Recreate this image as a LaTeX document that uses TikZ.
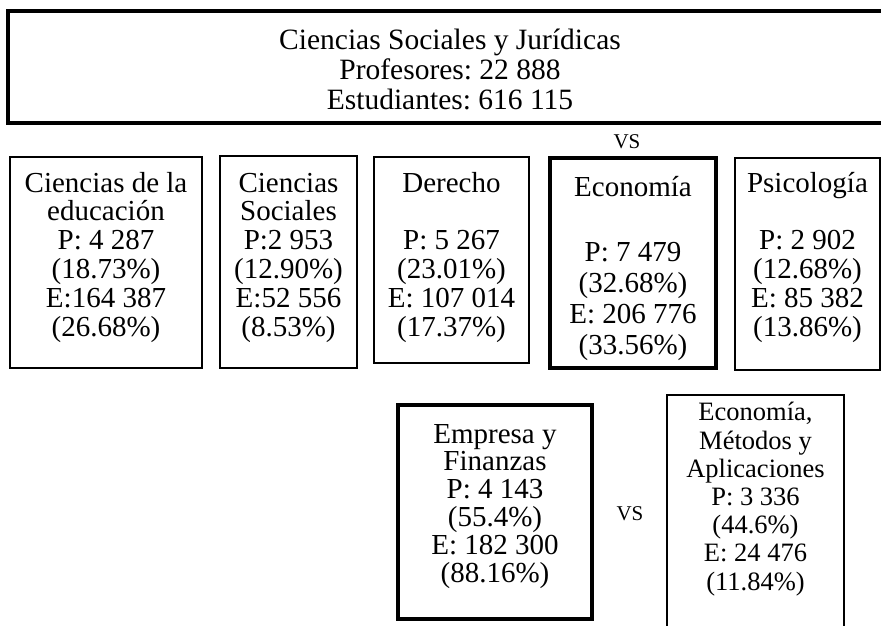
\documentclass[tikz,border=0pt]{standalone}
\usepackage{fontspec}
\setmainfont{Liberation Serif}
\frenchspacing
\begin{document}
\begin{tikzpicture}[x=1pt,y=-1pt,
  thinbox/.style={draw, line width=1.2pt, inner sep=0pt, outer sep=0pt},
  thickbox/.style={draw, line width=4.3pt, inner sep=0pt, outer sep=0pt},
  txt/.style={align=center, inner sep=0pt, anchor=base, font=\frenchspacing\fontsize{29}{28.8}\selectfont},
  vslabel/.style={inner sep=0pt, anchor=base, font=\fontsize{21}{21}\selectfont}]
\useasboundingbox (0,0) rectangle (881,625);
\clip (0,0) rectangle (881,625);
% boxes
\node[thickbox, minimum width=892, minimum height=112] (top) at (454,67) {};
\node[thinbox, minimum width=192, minimum height=211] (b1) at (106,262.5) {};
\node[thinbox, minimum width=137, minimum height=212] (b2) at (288.5,262) {};
\node[thinbox, minimum width=155, minimum height=206] (b3) at (451.5,260) {};
\node[thickbox, minimum width=166, minimum height=210] (b4) at (633,263) {};
\node[thinbox, minimum width=145, minimum height=212] (b5) at (807.5,264) {};
\node[thickbox, minimum width=194, minimum height=214] (b6) at (495,512) {};
\node[thinbox, minimum width=177, minimum height=265] (b7) at (755.5,527.5) {};
% texts (anchor = baseline of the last line)
\node[txt, font=\frenchspacing\fontsize{29.5}{30}\selectfont] (ttop) at (450,109)
  {Ciencias Sociales y Jurídicas\\Profesores: 22 888\\Estudiantes: 616 115};
\node[txt] (t1) at (106,336)
  {Ciencias de la\\educación\\P: 4 287\\(18.73\%)\\E:164 387\\(26.68\%)};
\node[txt] (t2) at (288.5,336)
  {Ciencias\\Sociales\\P:2 953\\(12.90\%)\\E:52 556\\(8.53\%)};
\node[txt] (t3) at (451.5,336)
  {Derecho\\[28.8pt]P: 5 267\\(23.01\%)\\E: 107 014\\(17.37\%)};
\node[txt, font=\frenchspacing\fontsize{29}{31}\selectfont] (t4) at (633,354)
  {Economía\\[34pt]P: 7 479\\(32.68\%)\\E: 206 776\\(33.56\%)};
\node[txt] (t5) at (807.5,336)
  {Psicología\\[28.8pt]P: 2 902\\(12.68\%)\\E: 85 382\\(13.86\%)};
\node[txt, font=\frenchspacing\fontsize{29}{27.8}\selectfont] (t6) at (495,582)
  {Empresa y\\Finanzas\\P: 4 143\\(55.4\%)\\E: 182 300\\(88.16\%)};
\node[txt, font=\frenchspacing\fontsize{26.5}{28.2}\selectfont] (t7) at (755.5,590)
  {Economía,\\Métodos y\\Aplicaciones\\P: 3 336\\(44.6\%)\\E: 24 476\\(11.84\%)};
\node[vslabel] (vs1) at (627,148) {VS};
\node[vslabel] (vs2) at (630,520) {VS};
\end{tikzpicture}
\end{document}
